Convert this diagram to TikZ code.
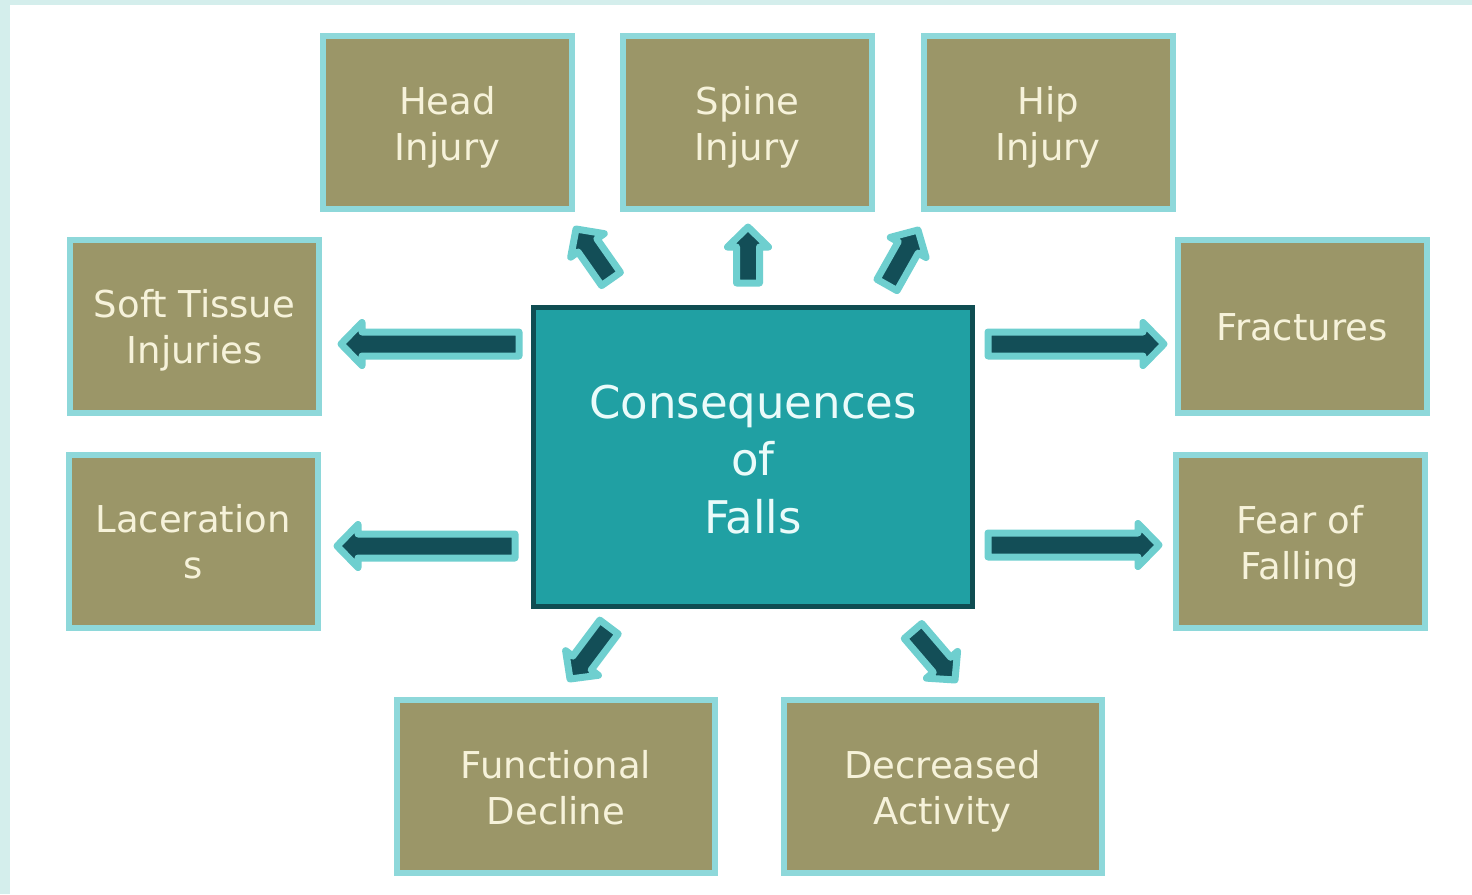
\documentclass[tikz,border=0pt]{standalone}
\usepackage{fontspec}
\setmainfont{DejaVu Sans}
\usetikzlibrary{calc}

\definecolor{framecol}{HTML}{D4EEEC}
\definecolor{boxfill}{HTML}{9B9668}
\definecolor{boxline}{HTML}{8ED8DA}
\definecolor{boxtext}{HTML}{F6F2DA}
\definecolor{hubfill}{HTML}{20A0A3}
\definecolor{hubline}{HTML}{0F4D52}
\definecolor{hubtext}{HTML}{EAFBFA}
\definecolor{arrowdark}{HTML}{134E57}
\definecolor{arrowlight}{HTML}{6ECFCF}

% invisible struts that even out the line boxes
\newcommand{\topst}[1][37pt]{\rule{0pt}{#1}}
\newcommand{\botst}{\rule[-8pt]{0pt}{8pt}}

% block arrow from #1 (tail) to #2 (tip): half shaft #3, half head #4, head length #5 (pt)
\newcommand{\blockarrow}[5]{%
  \filldraw[barrow] let \p1=(#1), \p2=(#2),
      \n1={atan2(\y2-\y1,\x2-\x1)}, \n2={veclen(\x2-\x1,\y2-\y1)} in
    [shift={(\p1)}, rotate=\n1]
    (0pt,-#3pt) -- ({(\n2)-(#5pt)},-#3pt) -- ({(\n2)-(#5pt)},-#4pt)
    -- ({(\n2)+(0pt)},0pt) -- ({(\n2)-(#5pt)},#4pt) -- ({(\n2)-(#5pt)},#3pt)
    -- (0pt,#3pt) -- cycle;}

\begin{document}
\begin{tikzpicture}[x=1pt,y=-1pt,
  leaf/.style={draw=boxline, line width=6pt, fill=boxfill, text=boxtext,
    minimum width=249pt, minimum height=173pt, align=center, inner sep=0pt,
    font=\fontsize{37}{46}\selectfont},
  wideleaf/.style={leaf, minimum width=318pt},
  hub/.style={draw=hubline, line width=5pt, fill=hubfill, text=hubtext,
    minimum width=439pt, minimum height=299pt, align=center, inner sep=0pt,
    font=\fontsize{45}{57.5}\selectfont},
  barrow/.style={fill=arrowdark, draw=arrowlight, line width=7pt, line join=round}]

% page and frame
\useasboundingbox (0,0) rectangle (1472,894);
\fill[white] (0,0) rectangle (1472,894);
\fill[framecol] (0,0) rectangle (1472,5);
\fill[framecol] (0,0) rectangle (10,894);

% boxes
\node[hub] (hub) at (753,457) {\topst[38pt]Consequences\\of\\Falls};
\node[leaf] (head) at (447.5,122.5) {\topst Head\\Injury\botst};
\node[leaf] (spine) at (747.5,122.5) {\topst Spine\\Injury\botst};
\node[leaf] (hip) at (1048,122.5) {\topst Hip\\Injury\botst};
\node[leaf] (soft) at (194.5,326) {\topst Soft Tissue\\Injuries\botst};
\node[leaf] (lac) at (193,541) {\topst Laceration\\s\botst};
\node[leaf] (frac) at (1302,326) {\raisebox{-3pt}{\topst Fractures\botst}};
\node[leaf] (fear) at (1300,541.5) {\topst Fear of\\Falling\botst};
\node[wideleaf] (func) at (556,786.5) {\topst Functional\\Decline\botst};
\node[wideleaf] (decr) at (942.5,786.5) {\topst Decreased\\Activity\botst};

% arrow ends
\coordinate (t-soft) at (519,344);  \coordinate (p-soft) at (341,344);
\coordinate (t-lac)  at (515,546);  \coordinate (p-lac)  at (337,546);
\coordinate (t-frac) at (988,344);  \coordinate (p-frac) at (1164,344);
\coordinate (t-fear) at (988,545);  \coordinate (p-fear) at (1159,545);
\coordinate (t-head) at (611,279);  \coordinate (p-head) at (576,229);
\coordinate (t-spine) at (748,283); \coordinate (p-spine) at (748,227);
\coordinate (t-hip)  at (887,285);  \coordinate (p-hip)  at (918,230);
\coordinate (t-func) at (609,627);  \coordinate (p-func) at (570,679);
\coordinate (t-decr) at (913,631);  \coordinate (p-decr) at (955,680);

% arrows
\blockarrow{t-soft}{p-soft}{12}{21.5}{21}
\blockarrow{t-lac}{p-lac}{12}{21.5}{21}
\blockarrow{t-frac}{p-frac}{12}{21.5}{21}
\blockarrow{t-fear}{p-fear}{12}{21.5}{21}
\blockarrow{t-head}{p-head}{11.5}{20.5}{20}
\blockarrow{t-spine}{p-spine}{11.5}{20.5}{20}
\blockarrow{t-hip}{p-hip}{11.5}{20.5}{20}
\blockarrow{t-func}{p-func}{11.5}{20.5}{20}
\blockarrow{t-decr}{p-decr}{11.5}{20.5}{20}
\end{tikzpicture}
\end{document}
